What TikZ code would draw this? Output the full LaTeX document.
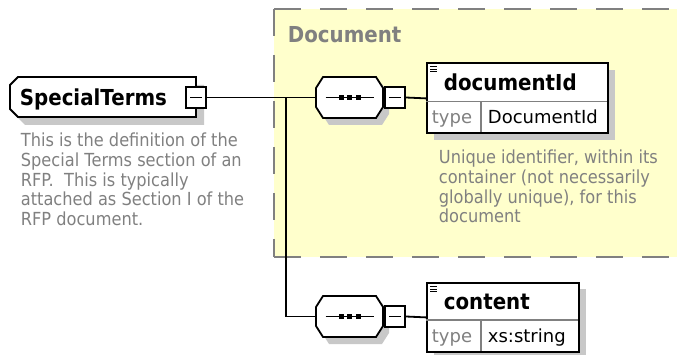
\documentclass[tikz,border=0pt]{standalone}
\usepackage{fontspec}
\newfontfamily\tahA[FakeStretch=0.9]{DejaVu Sans}
\newfontfamily\tahB{DejaVu Sans}
\definecolor{docfill}{RGB}{255,255,204}
\definecolor{dgray}{RGB}{128,128,128}
\definecolor{shad}{RGB}{200,200,200}
% octagon of a sequence compositor: left, top, right, bottom
\newcommand\seqshape[4]{%
  \fill[shad] (#1+6,#2+18) -- (#1+13,#2+7) -- (#3-1,#2+7) -- (#3+6,#2+18) -- (#3+6,#4-4) -- (#3-1,#4+7) -- (#1+13,#4+7) -- (#1+6,#4-4) -- cycle;
  \filldraw[fill=white] (#1,#2+11) -- (#1+7,#2) -- (#3-7,#2) -- (#3,#2+11) -- (#3,#4-11) -- (#3-7,#4) -- (#1+7,#4) -- (#1,#4-11) -- cycle;}
% line with three dots, centred at x,y
\newcommand\seqdots[2]{%
  \draw[line width=1.6pt] (#1-24,#2) -- (#1+24,#2);
  \fill (#1-11,#2-2.5) rectangle (#1-6,#2+2.5);
  \fill (#1-2.5,#2-2.5) rectangle (#1+2.5,#2+2.5);
  \fill (#1+6,#2-2.5) rectangle (#1+11,#2+2.5);}
% three-line icon at top left of an element box
\newcommand\elicon[2]{%
  \draw[line width=1pt] (#1,#2) -- (#1+7,#2) (#1,#2+2.5) -- (#1+7,#2+2.5) (#1,#2+5) -- (#1+7,#2+5);}
\begin{document}
\begin{tikzpicture}[x=1pt,y=-1pt,line width=1.8pt,
  title/.style={font=\tahA\bfseries\fontsize{22}{24}\selectfont, inner sep=0, anchor=base west},
  desc/.style={font=\tahA\fontsize{18}{19.7}\selectfont, text=dgray, inner sep=0, anchor=north west, align=left},
  typetxt/.style={font=\tahB\fontsize{18}{20}\selectfont, inner sep=0, anchor=base west},
  minusbox/.style={draw, fill=white, minimum width=20pt, minimum height=21pt, inner sep=0,
    path picture={\draw[line width=1.4pt] ([xshift=4pt]path picture bounding box.west) -- ([xshift=-4pt]path picture bounding box.east);}},
  seqbox/.style={inner sep=0, minimum width=67pt, minimum height=41pt},
  elbox/.style={draw, fill=white, inner sep=0, anchor=north west},
  divline/.style={draw=dgray, line width=1.2pt},
  groupline/.style={draw=dgray, line width=1.8pt, dash pattern=on 27pt off 19pt},
]
\useasboundingbox (0,0) rectangle (677,355);
% group "Document"
\fill[docfill] (274,9) rectangle (690,257);
\draw[groupline] (274,9) -- (690,9);
\draw[groupline] (274,9) -- (274,257);
\draw[groupline] (274,257) -- (690,257);
\node[title, text=dgray] (doctitle) at (287,43) {Document};
% SpecialTerms
\fill[shad] (25,85) -- (204,85) -- (204,125) -- (25,125) -- (17,117) -- (17,93) -- cycle;
\filldraw[fill=white] (18,77) -- (196,77) -- (196,117) -- (18,117) -- (10,109) -- (10,85) -- cycle;
\node[title] (st) at (19,106) {SpecialTerms};
\node[minusbox] (stm) at (196,97.5) {};
\node[desc] (stdesc) at (20,132.3) {This is the definition of the\\Special Terms section of an\\RFP.\ \ This is typically\\attached as Section I of the\\RFP document.};
% sequence 1
\seqshape{316}{77}{383}{118}
\node[seqbox] (seq1) at (349.5,97.5) {};
\seqdots{349.5}{97.5}
\node[minusbox] (seq1m) at (395,97.5) {};
% sequence 2
\seqshape{316}{296}{383}{337}
\node[seqbox] (seq2) at (349.5,316.5) {};
\seqdots{349.5}{316.5}
\node[minusbox] (seq2m) at (395,316.5) {};
% element documentId
\fill[shad] (434,70.5) rectangle (615,140.5);
\node[elbox, minimum width=181pt, minimum height=70pt] (docbox) at (426,62.5) {};
\draw[divline] (426,101.5) -- (607,101.5);
\draw[divline] (481,101.5) -- (481,132.5);
\elicon{430}{67}
\node[title] (docid) at (443,90.5) {documentId};
\node[typetxt, text=dgray] (doctype) at (431,124) {type};
\node[typetxt] (doctypev) at (487,124) {DocumentId};
\node[desc] (docdesc) at (438,149.3) {Unique identifier, within its\\container (not necessarily\\globally unique), for this\\document};
% element content
\fill[shad] (434,289) rectangle (586,358);
\node[elbox, minimum width=152pt, minimum height=69pt] (contbox) at (426,282) {};
\draw[divline] (426,320) -- (578,320);
\draw[divline] (481,320) -- (481,351);
\elicon{430}{286.5}
\node[title] (cont) at (443,309) {content};
\node[typetxt, text=dgray] (conttype) at (431,342) {type};
\node[typetxt] (conttypev) at (487,342) {xs:string};
% connectors
\coordinate (split) at (286,97.5);
\draw (stm.east) -- (seq1.west);
\draw (split) |- (seq2.west);
\draw (seq1m.east) -- (docbox.west);
\draw (seq2m.east) -- (contbox.west);
\end{tikzpicture}
\end{document}
